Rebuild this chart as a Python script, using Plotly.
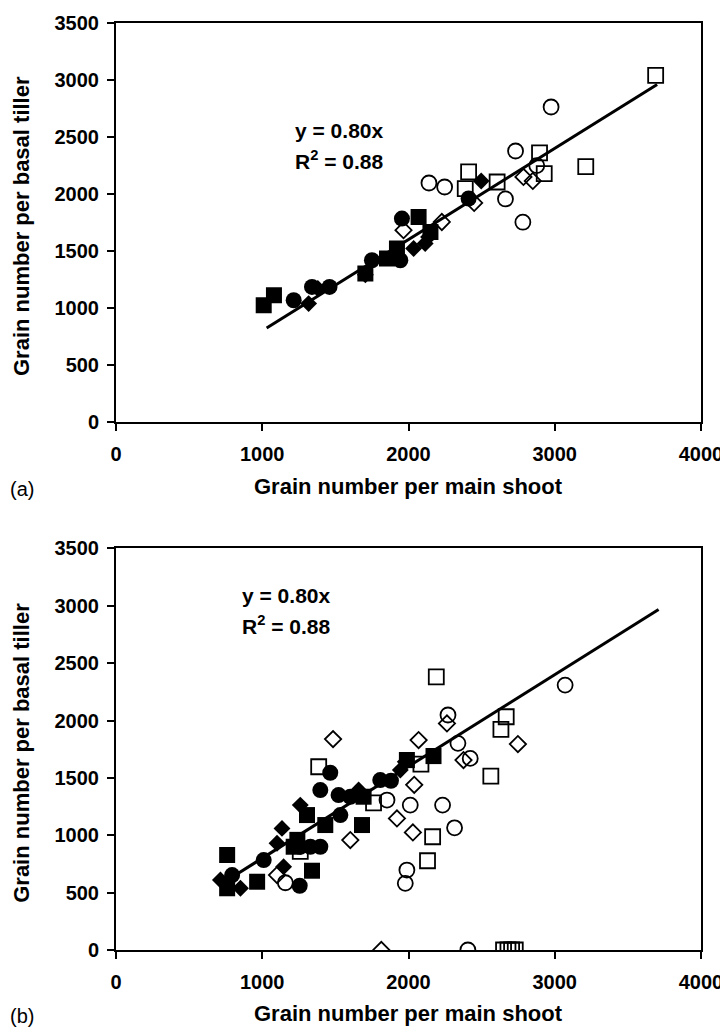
import plotly.graph_objects as go

# ---------------- Panel (a) data ----------------
a_fsq_x = [1010, 1080, 1705, 1853, 1921, 2069, 2150]
a_fsq_y = [1023, 1110, 1302, 1433, 1521, 1798, 1667]
a_fci_x = [1215, 1340, 1460, 1750, 1944, 1955, 2411]
a_fci_y = [1067, 1184, 1184, 1418, 1418, 1784, 1960]
a_fdi_x = [1317, 1380, 1705, 2035, 2114, 2137, 2497]
a_fdi_y = [1038, 1170, 1290, 1521, 1565, 1623, 2114]
a_osq_x = [2388, 2411, 2606, 2896, 2928, 3212, 3690]
a_osq_y = [2047, 2193, 2105, 2360, 2179, 2240, 3040]
a_oci_x = [2140, 2247, 2663, 2732, 2782, 2877, 2975]
a_oci_y = [2096, 2061, 1956, 2377, 1752, 2249, 2763]
a_odi_x = [1966, 2228, 2449, 2786, 2850]
a_odi_y = [1682, 1754, 1921, 2149, 2114]
a_line_x = [1030, 3700]

# ---------------- Panel (b) data ----------------
b_fsq_x = [760, 760, 965, 1215, 1240, 1306, 1340, 1431, 1682, 1693, 1989, 2171]
b_fsq_y = [828, 538, 595, 900, 960, 1176, 691, 1089, 1089, 1336, 1655, 1690]
b_fci_x = [794, 1010, 1256, 1260, 1329, 1397, 1397, 1465, 1522, 1534, 1602, 1807, 1880]
b_fci_y = [653, 784, 560, 900, 900, 900, 1394, 1545, 1350, 1176, 1336, 1481, 1475]
b_fdi_x = [714, 851, 1101, 1135, 1146, 1260, 1659, 1944, 1978]
b_fdi_y = [610, 538, 930, 1060, 726, 1263, 1394, 1568, 1640]
b_osq_x = [1260, 1386, 1761, 2085, 2130, 2165, 2190, 2563, 2632, 2668, 2650, 2680, 2705, 2730]
b_osq_y = [860, 1597, 1283, 1620, 778, 987, 2381, 1516, 1923, 2033, 0, 0, 0, 0]
b_oci_x = [1158, 1853, 1978, 1989, 2012, 2233, 2270, 2315, 2338, 2406, 2422, 3071]
b_oci_y = [586, 1307, 581, 697, 1263, 1263, 2048, 1065, 1801, 0, 1670, 2309]
b_odi_x = [1101, 1484, 1602, 1814, 1921, 2030, 2039, 2069, 2263, 2376, 2748]
b_odi_y = [653, 1838, 958, 0, 1147, 1025, 1440, 1830, 1975, 1655, 1795]
b_line_x = [760, 3710]

slope = 0.80
x_ticks = [0, 1000, 2000, 3000, 4000]
y_ticks = [0, 500, 1000, 1500, 2000, 2500, 3000, 3500]
x_title = "Grain number per main shoot"
y_title = "Grain number per basal tiller"
eq_text = "y = 0.80x"
r2_text = "R<sup>2</sup> = 0.88"

FONT = "Liberation Sans, Arial, sans-serif"

fig = go.Figure()

def add_panel(xa, ya, line_x, groups):
    fig.add_trace(go.Scatter(x=line_x, y=[slope * v for v in line_x], mode="lines",
                             line=dict(color="black", width=3), xaxis=xa, yaxis=ya,
                             showlegend=False, hoverinfo="skip"))
    for xs, ys, sym, size in groups:
        opened = sym.endswith("-open")
        fig.add_trace(go.Scatter(
            x=xs, y=ys, mode="markers", xaxis=xa, yaxis=ya, showlegend=False,
            marker=dict(symbol=sym, size=size, color="black",
                        line=dict(color="black", width=1.8 if opened else 0))))

add_panel("x", "y", a_line_x, [
    (a_osq_x, a_osq_y, "square-open", 15),
    (a_oci_x, a_oci_y, "circle-open", 15),
    (a_odi_x, a_odi_y, "diamond-open", 12.5),
    (a_fsq_x, a_fsq_y, "square", 16),
    (a_fci_x, a_fci_y, "circle", 16),
    (a_fdi_x, a_fdi_y, "diamond", 13),
])
add_panel("x2", "y2", b_line_x, [
    (b_osq_x, b_osq_y, "square-open", 15),
    (b_oci_x, b_oci_y, "circle-open", 15),
    (b_odi_x, b_odi_y, "diamond-open", 12.5),
    (b_fsq_x, b_fsq_y, "square", 16),
    (b_fci_x, b_fci_y, "circle", 16),
    (b_fdi_x, b_fdi_y, "diamond", 13),
])

tickfont = dict(family=FONT, size=20, color="black", weight="bold")
common_x = dict(range=[0, 4000], tickvals=x_ticks, ticks="outside", ticklen=7, tickwidth=2,
                tickcolor="black", showline=True, linewidth=2, linecolor="black", mirror=True,
                showgrid=False, zeroline=False, tickfont=tickfont, ticklabelstandoff=6)
common_y = dict(range=[0, 3500], tickvals=y_ticks, ticks="outside", ticklen=7, tickwidth=2,
                tickcolor="black", showline=True, linewidth=2, linecolor="black", mirror=True,
                showgrid=False, zeroline=False, tickfont=tickfont, ticklabelstandoff=4)

# The page body has an 8 px margin, so the figure is drawn at (8, 8) in the window.
OFF = 8
H, W = 1028 - OFF, 728 - OFF
SCR_LEFT, SCR_RIGHT = 115.5, 701      # plot area in window pixels
SCR_TOP, SCR_BOTTOM = 22.7, 950
L = SCR_LEFT - OFF
R = 728 - SCR_RIGHT
T = SCR_TOP - OFF
B = 1028 - SCR_BOTTOM
ph = H - T - B
pw = W - L - R

def py(sy):
    return (SCR_BOTTOM - sy) / ph

def px(sx):
    return (sx - SCR_LEFT) / pw

fig.update_layout(
    width=W, height=H, margin=dict(l=L, r=R, t=T, b=B, autoexpand=False),
    plot_bgcolor="white", paper_bgcolor="white",
    xaxis=dict(common_x, domain=[0, 1], anchor="y"),
    yaxis=dict(common_y, domain=[py(421.7), 1], anchor="x"),
    xaxis2=dict(common_x, domain=[0, 1], anchor="y2"),
    yaxis2=dict(common_y, domain=[0, py(548.3)], anchor="x2"),
)

title_font = dict(family=FONT, size=22, color="black", weight="bold")
ann_font = dict(family=FONT, size=21, color="black", weight="bold")
lab_font = dict(family=FONT, size=20, color="black")

anns = []
anns.append(dict(x=1527, y=2560, xref="x", yref="y", text=eq_text, showarrow=False, font=ann_font))
anns.append(dict(x=1527, y=2296, xref="x", yref="y", text=r2_text, showarrow=False, font=ann_font))
anns.append(dict(x=1165, y=3093, xref="x2", yref="y2", text=eq_text, showarrow=False, font=ann_font))
anns.append(dict(x=1165, y=2832, xref="x2", yref="y2", text=r2_text, showarrow=False, font=ann_font))
for ymid, ybot in [((22.7 + 421.7) / 2 + 4, 486), ((548.3 + 950) / 2 + 4, 1014)]:
    anns.append(dict(x=px(21), y=py(ymid), xref="paper", yref="paper", text=y_title,
                     textangle=-90, showarrow=False, font=title_font,
                     xanchor="center", yanchor="middle"))
    anns.append(dict(x=px(408), y=py(ybot), xref="paper", yref="paper", text=x_title,
                     showarrow=False, font=title_font, xanchor="center", yanchor="middle"))
anns.append(dict(x=px(21), y=py(489), xref="paper", yref="paper", text="(a)",
                 showarrow=False, font=lab_font, xanchor="center", yanchor="middle"))
anns.append(dict(x=px(21), y=py(1016), xref="paper", yref="paper", text="(b)",
                 showarrow=False, font=lab_font, xanchor="center", yanchor="middle"))
fig.update_layout(annotations=anns)

fig.write_html("out.html")
